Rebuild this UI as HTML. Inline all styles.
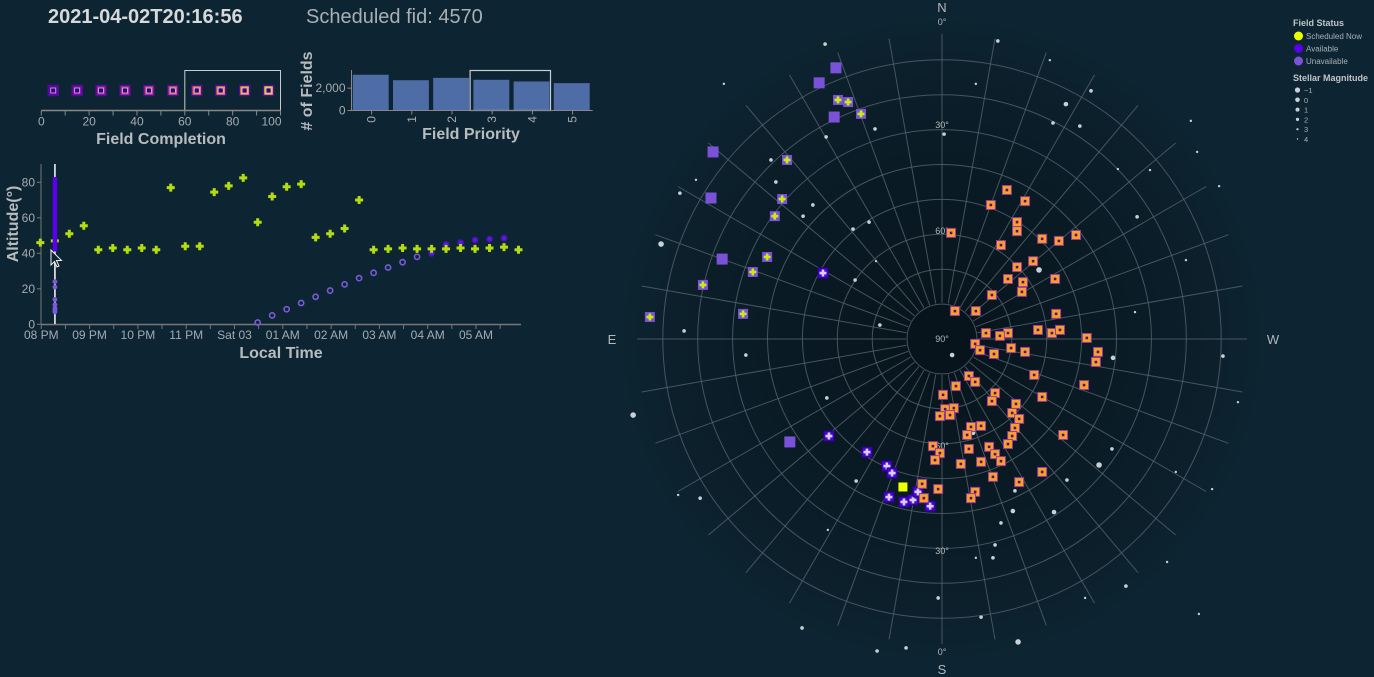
<!DOCTYPE html>
<html><head><meta charset="utf-8">
<style>
html,body{margin:0;padding:0;background:#0d2532;}
svg{display:block;font-family:"Liberation Sans",sans-serif;}
</style></head>
<body>
<svg id="main" width="1374" height="677" viewBox="0 0 1374 677" xmlns="http://www.w3.org/2000/svg">
<defs>
<radialGradient id="skyg" cx="942" cy="339" r="330" gradientUnits="userSpaceOnUse">
<stop offset="0" stop-color="#07131b"/><stop offset="0.75" stop-color="#0b1e29"/><stop offset="1" stop-color="#0d2532"/>
</radialGradient>
</defs>
<rect width="1374" height="677" fill="#0d2532"/>
<text x="48" y="23" font-size="20" font-weight="bold" fill="#d6d8da">2021-04-02T20:16:56</text>
<text x="306" y="23" font-size="20" fill="#a9afb4">Scheduled fid: 4570</text>
<g id="comp"></g>
<g id="prio"></g>
<g id="alt"></g>
<g id="sky"></g>
<g id="legend"></g>
</svg>
<script>
// ---------- data ----------
const completionBins = [5,15,25,35,45,55,65,75,85,95];
const completionTicks = [0,20,40,60,80,100];
const priorityCats = [0,1,2,3,4,5];
const priorityCounts = [3200,2710,2920,2750,2600,2450];
const priorityTicks = [0,2000];
const altTimes = [-0.02,0.28,0.58,0.88,1.18,1.48,1.78,2.08,2.38,2.68,2.98,3.28,3.58,3.88,4.18,4.48,4.78,5.08,5.38,5.68,5.98,6.28,6.58,6.88,7.18,7.48,7.78,8.08,8.38,8.68,8.98,9.28,9.58,9.88];
const schedAlt = [46,47,51,55.5,42,43,42,43,42,77,44,44,74.5,78,82.5,57.5,72,77.5,79,49,51,54,70,42,42.5,43,42.5,42.5,42.5,43,42.5,43,43.5,42];
const candIdx = [15,16,17,18,19,20,21,22,23,24,25,26,27,28,29,30,31,32];
const candAlt = [1,5,8.5,12,15.5,19,22.5,26,29,32,35,38,40,45,46,47.5,48,48.5];
const candAvail = [0,0,0,0,0,0,0,0,0,0,0,0,1,1,1,1,1,1];
const nowHour = 0.282;
const nowRangeAlt = [41,83];
const nowUnavailAlt = [24,21,14,11,9,8,7];
const timeTickLabels = ["08 PM","09 PM","10 PM","11 PM","Sat 03","01 AM","02 AM","03 AM","04 AM","05 AM"];
const altTicks = [0,20,40,60,80];
// sky: projected offsets in degrees of zenith distance (x toward W, y toward S)
const doneX = [21.5,26.1,18.9,23.2,22.9,32.4,14.3,3.7,9.7,32.7,12.6,18.9,16.6,27.5,31.5,33.8,41.5,9.5,10.9,19.8,14.9,23.8,44.7,44.1,26.4,7.7,9.5,4.0,40.7,15.2,0.3,28.7,14.3,21.2,20.1,22.1,0.9,3.4,-0.6,2.3,20.9,8.3,11.2,20.1,7.2,18.9,34.7,-2.6,-0.6,13.5,7.7,15.2,-2.0,11.2,16.9,5.4,28.7,14.6,22.1,-5.7,-1.1,9.5,8.3,-5.2,18.6,14.0,23.8,21.5,21.5,2.6,28.7,33.5,38.4,16.9];
const doneY = [-20.6,-22.3,-17.2,-16.3,-13.5,-17.2,-12.6,-8.0,-8.0,-7.2,-1.7,-1.7,-0.9,-2.6,-1.7,-2.6,-0.3,1.4,3.2,2.6,4.3,3.7,3.7,6.6,10.3,10.6,12.3,13.5,13.2,15.5,16.0,16.6,17.8,18.6,21.2,22.9,20.1,19.8,22.1,21.8,25.5,25.2,24.9,27.8,27.5,30.1,27.5,30.7,32.7,30.9,31.5,33.0,34.7,35.2,35.0,35.8,38.1,39.5,41.0,41.5,43.0,43.8,45.6,45.6,-42.7,-38.4,-39.5,-33.5,-30.9,-30.4,-28.7,-28.1,-29.8,-26.9];
const availX = [-34.1,-32.4,-21.5,-15.8,-14.3,-15.2,-10.9,-8.3,-6.9,-3.4];
const availY = [-18.9,27.8,32.4,36.4,38.4,45.3,46.7,46.1,43.8,47.9];
const unavailX = [-30.4,-35.2,-30.9,-65.6,-66.2,-63.0,-43.6];
const unavailY = [-77.7,-73.4,-63.6,-53.6,-40.4,-22.9,29.5];
const schedPrevX = [-29.8,-26.9,-23.2,-44.4,-45.8,-47.9,-50.1,-54.2,-68.5,-83.7,-57.0];
const schedPrevY = [-68.5,-67.9,-64.5,-51.3,-40.1,-35.2,-23.5,-19.2,-15.5,-6.3,-7.2];
const nowX = [-11.2], nowY = [42.4];
const starX = [-80.5,-88.5,35.5,31.8,21.8,0.6,2.9,49.0,45.0,32.1,27.8,20.3,8.9,-56.2,-33.0,-47.6,-20.9,-25.5,-37.0,-24.9,-18.9,-33.2,-19.2,16.0,42.7,39.5,73.1,79.4,80.5,55.3,69.9,67.0,77.4,48.7,35.8,20.9,16.9,15.2,14.6,9.7,-1.1,-10.3,-18.6,-40.1,-24.6,-32.7,-69.3,-75.6,-73.9,-75.1,-70.5,-62.5,-33.5,-49.0,-39.8,-17.8,11.2,52.7,73.6,41.0,64.5,84.8,55.9,59.6,50.4,9.7,30.9,71.3];
const starY = [-27.2,21.8,-67.3,-61.9,86.8,-58.7,4.6,5.4,36.1,49.6,-19.8,49.3,26.9,4.6,16.9,-45.0,-33.5,-31.5,-38.4,-16.9,-22.3,-57.9,-60.2,-85.4,-71.1,-61.0,-53.6,-43.8,4.9,-7.7,-22.6,38.1,43.0,31.5,40.4,43.5,52.7,59.0,62.7,62.7,74.2,88.5,89.4,82.8,40.7,54.7,45.6,44.7,-2.3,-41.8,-45.6,-73.1,-84.5,-51.3,-35.2,-4.0,79.7,70.8,78.8,74.2,63.9,18.1,-35.0,-48.4,-48.7,-73.1,-79.9,-62.5];
const starMag = [0,0,1,2,0,2,1,1,0,1,0,1,1,2,2,2,2,2,2,2,3,2,2,2,2,2,3,3,2,3,3,3,3,2,2,2,2,2,2,3,2,2,2,2,2,3,2,3,2,2,3,3,2,2,2,2,2,2,3,3,3,3,2,3,3,3,3,3];
const magLegend = ["\u22121","0","1","2","3","4"];

const NS="http://www.w3.org/2000/svg";
function mk(parent, tag, attrs, text){const e=document.createElementNS(NS,tag);for(const k in attrs)e.setAttribute(k,attrs[k]);if(text!==undefined)e.textContent=text;parent.appendChild(e);return e;}
const plasma=["#6b00a8","#8b0aa5","#a31e9a","#b83289","#cc4778","#db5c68","#e97158","#f48849","#fba238","#fdc328"];

// ---------- completion ----------
(function(){
 const g=document.getElementById('comp');
 const sx=v=>41.3+v*2.392, y0=110.5;
 const br=mk(g,'rect',{x:sx(60),y:70.5,width:sx(100)-sx(60),height:40,fill:'none',stroke:'#c9ccce','stroke-width':1});
 
 
 mk(g,'line',{x1:sx(0),x2:sx(100),y1:y0,y2:y0,stroke:'#888','stroke-width':1.5});
 for(let v=0;v<=100;v+=10){mk(g,'line',{x1:sx(v),x2:sx(v),y1:y0,y2:y0+5,stroke:'#888'});}
 completionTicks.forEach(v=>{const t=mk(g,'text',{x:sx(v),y:y0+15,'font-size':12,fill:'#a5abb0','text-anchor':v===100?'end':'middle'},v);if(v===100)t.setAttribute('x',sx(v)+1);});
 completionBins.forEach((v,i)=>{
  const s=mk(g,'rect',{x:sx(v)-5,y:85.5,width:10,height:10,fill:plasma[i],stroke:'#4a0f9a','stroke-width':1.5});
  
  
  mk(g,'rect',{x:sx(v)-2.5,y:88,width:5,height:5,fill:'#2c0a70',stroke:'#e0b0e0','stroke-width':0.8});
 });
 const l=mk(g,'text',{x:161,y:144,'font-size':16,'font-weight':'bold',fill:'#b8bcbf','text-anchor':'middle'},'Field Completion');
 
})();

// ---------- priority ----------
(function(){
 const g=document.getElementById('prio');
 const x0=351.5, step=40.2, y0=110.5, sy=v=>y0-v*0.01117;
 priorityCats.forEach((c,i)=>{
  const b=mk(g,'rect',{x:x0+i*step+1.3,y:sy(priorityCounts[i]),width:step-4.3,height:y0-sy(priorityCounts[i]),fill:'#4e6ca5'});
  
  
  const t=mk(g,'text',{transform:`translate(${x0+i*step+step/2+4},116) rotate(-90)`,'font-size':12,fill:'#a5abb0','text-anchor':'end'},c);
  
  mk(g,'line',{x1:x0+i*step+step/2,x2:x0+i*step+step/2,y1:y0,y2:y0+4,stroke:'#888'});
 });
 const br=mk(g,'rect',{x:x0+3*step-2,y:70.5,width:2*step,height:40,fill:'none',stroke:'#c9ccce','stroke-width':1.2});
 
 mk(g,'line',{x1:x0,x2:x0,y1:70,y2:y0,stroke:'#888'});
 mk(g,'line',{x1:x0,x2:x0+6*step,y1:y0,y2:y0,stroke:'#888'});
 priorityTicks.forEach(v=>{mk(g,'line',{x1:x0-4,x2:x0,y1:sy(v),y2:sy(v),stroke:'#888'});
  const t=mk(g,'text',{x:x0-6,y:sy(v)+4,'font-size':12,fill:'#a5abb0','text-anchor':'end'},v.toLocaleString('en-US'));
  });
 const yl=mk(g,'text',{transform:'translate(312,91) rotate(-90)','font-size':16,'font-weight':'bold',fill:'#b8bcbf','text-anchor':'middle'},'# of Fields');
 
 const xl=mk(g,'text',{x:471,y:139,'font-size':16,'font-weight':'bold',fill:'#b8bcbf','text-anchor':'middle'},'Field Priority');
 
})();

// ---------- altitude ----------
(function(){
 const g=document.getElementById('alt');
 const sx=h=>41.3+h*48.3, sy=a=>324.3-a*1.775;
 mk(g,'line',{x1:41,x2:41,y1:164,y2:324.5,stroke:'#777'});
 mk(g,'line',{x1:41,x2:521,y1:324.5,y2:324.5,stroke:'#777','stroke-width':1.5});
 altTicks.forEach(a=>{mk(g,'line',{x1:37,x2:41,y1:sy(a),y2:sy(a),stroke:'#777'});
  const t=mk(g,'text',{x:35,y:sy(a)+4,'font-size':12,fill:'#a5abb0','text-anchor':'end'},a);
  });
 for(let h=0;h<=9.5;h+=0.5) mk(g,'line',{x1:sx(h),x2:sx(h),y1:324.5,y2:329,stroke:'#777'});
 timeTickLabels.forEach((s,i)=>{const t=mk(g,'text',{x:sx(i),y:339,'font-size':12,fill:'#a5abb0','text-anchor':'middle'},s);
  });
 const yl=mk(g,'text',{transform:'translate(18,224) rotate(-90)','font-size':16,'font-weight':'bold',fill:'#b8bcbf','text-anchor':'middle'},'Altitude(°)');
 
 const xl=mk(g,'text',{x:281,y:358,'font-size':16,'font-weight':'bold',fill:'#b8bcbf','text-anchor':'middle'},'Local Time');
 
 // candidate circles
 candIdx.forEach((ix,k)=>{
  const c=mk(g,'circle',{cx:sx(altTimes[ix]),cy:sy(candAlt[k]),r:2.6,fill:candAvail[k]?'#5a1fd0':'none',stroke:candAvail[k]?'#4a10c0':'#7a5ad8','stroke-width':1.6});
  
  
 });
 // scheduled crosses
 schedAlt.forEach((a,i)=>{
  const x=sx(altTimes[i]),y=sy(a);
  const p=mk(g,'path',{d:`M${x-1.5},${y-4}h3v2.5h2.5v3h-2.5v2.5h-3v-2.5h-2.5v-3h2.5z`,fill:'#b4dc10'});
  
  
 });
 // current time
 const nx=sx(nowHour);
 const nl=mk(g,'line',{x1:nx,x2:nx,y1:164,y2:324,stroke:'#d8d8d8','stroke-width':1.8});
 
 const nb=mk(g,'rect',{x:nx-2.2,y:sy(nowRangeAlt[1]),width:4.4,height:sy(nowRangeAlt[0])-sy(nowRangeAlt[1]),fill:'#5a00f0'});
 
 nowUnavailAlt.forEach(a=>{const c=mk(g,'circle',{cx:nx,cy:sy(a),r:2.4,fill:'#7a5ad8'});
  });
 mk(g,'path',{d:'M51,250 v15 l3.5,-3.5 l2.5,5.5 l2,-1 l-2.5,-5.5 h5 z',fill:'#0d2532',stroke:'#eee','stroke-width':1});
})();

// ---------- sky map ----------
(function(){
 const g=document.getElementById('sky');
 const cx=942,cy=339,k=3.49;
 const px=d=>cx+d*k, py=d=>cy+d*k;
 mk(g,'circle',{cx,cy,r:330,fill:'url(#skyg)'});
 for(let a=10;a<=80;a+=10){const c=mk(g,'circle',{cx,cy,r:(90-a)*k,fill:'none',stroke:'#55636d','stroke-width':1,opacity:0.8});
  }
 for(let az=0;az<360;az+=10){const t=az*Math.PI/180;
  const l=mk(g,'line',{x1:cx+36*Math.sin(t),y1:cy-36*Math.cos(t),x2:cx+305*Math.sin(t),y2:cy-305*Math.cos(t),stroke:'#55636d','stroke-width':1,opacity:0.8});
  }
 const lab=(t,x,y,fs,n)=>{const e=mk(g,'text',{x,y,'font-size':fs,fill:'#b4b8bb','text-anchor':'middle'},t);};
 lab('N',942,12,13,'north-label');lab('S',942,674,13,'south-label');lab('E',612,344,13,'east-label');lab('W',1273,344,13,'west-label');
 [['0°',25],['30°',128],['60°',234],['90°',342],['60°',449],['30°',554],['0°',655]].forEach(p=>lab(p[0],942,p[1],9,'altitude-ring-label'));
 const srad=[3.2,2.8,2.3,1.8,1.2,0.8];
 starX.forEach((x,i)=>{const s=mk(g,'circle',{cx:px(x),cy:py(starY[i]),r:srad[starMag[i]+1],fill:'#c9d0d6'});
  });
 const cross=(x,y,c)=>mk(g,'path',{d:`M${x-1.3},${y-3.5}h2.6v2.2h2.2v2.6h-2.2v2.2h-2.6v-2.2h-2.2v-2.6h2.2z`,fill:c});
 unavailX.forEach((x,i)=>{const r=mk(g,'rect',{x:px(x)-5.5,y:py(unavailY[i])-5.5,width:11,height:11,fill:'#7a52d8'});
  });
 schedPrevX.forEach((x,i)=>{const X=px(x),Y=py(schedPrevY[i]);const r=mk(g,'rect',{x:X-5,y:Y-5,width:10,height:10,fill:'#7a52d8'});
  cross(X,Y,'#c8ee10');});
 availX.forEach((x,i)=>{const X=px(x),Y=py(availY[i]);const r=mk(g,'rect',{x:X-5,y:Y-5,width:10,height:10,fill:'#4a00d8',stroke:'#2a0090','stroke-width':1});
  cross(X,Y,'#d8d0f0');});
 doneX.forEach((x,i)=>{const X=px(x),Y=py(doneY[i]);const r=mk(g,'rect',{x:X-4.5,y:Y-4.5,width:9,height:9,fill:'#f5a030',stroke:'#9a3a9a','stroke-width':1});
  
  mk(g,'rect',{x:X-1.3,y:Y-1.3,width:2.6,height:2.6,fill:'#5a1060'});});
 nowX.forEach((x,i)=>{const r=mk(g,'rect',{x:px(x)-4.5,y:py(nowY[i])-4.5,width:9,height:9,fill:'#f0ff00'});
  });
})();

// ---------- legend ----------
(function(){
 const g=document.getElementById('legend');
 const t1=mk(g,'text',{x:1293,y:26,'font-size':9,'font-weight':'bold',fill:'#c0c4c7'},'Field Status');
 
 [['Scheduled Now','#eaff00'],['Available','#5a00e8'],['Unavailable','#7a52d8']].forEach((e,i)=>{
  const y=36+i*12.5;
  const c=mk(g,'circle',{cx:1298.5,cy:y,r:4.5,fill:e[1]});
  
  const t=mk(g,'text',{x:1306,y:y+3,'font-size':8,fill:'#a9afb4'},e[0]);
  
 });
 const t2=mk(g,'text',{x:1293,y:81,'font-size':9,'font-weight':'bold',fill:'#c0c4c7'},'Stellar Magnitude');
 
 const rr=[2.6,2.3,2.0,1.6,1.1,0.7];
 magLegend.forEach((m,i)=>{const y=90+i*9.8;
  const c=mk(g,'circle',{cx:1297.5,cy:y,r:rr[i],fill:'#c9d0d6'});
  
  const t=mk(g,'text',{x:1304,y:y+3,'font-size':7.5,fill:'#a9afb4'},m);
  });
})();
</script>
</body></html>
